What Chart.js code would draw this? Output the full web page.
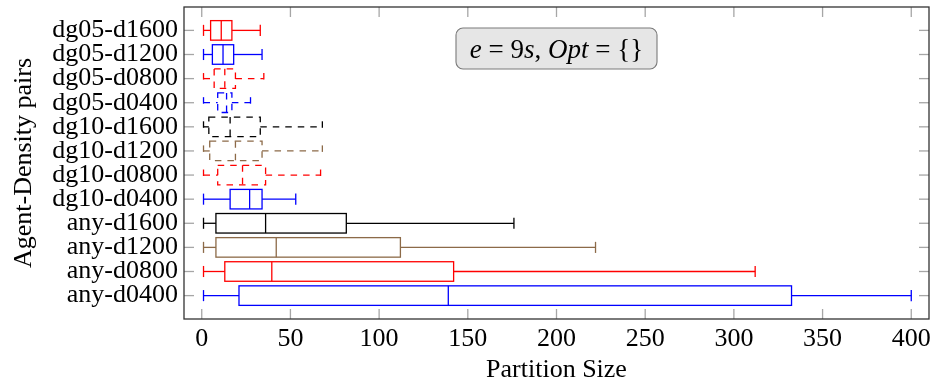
<!DOCTYPE html>
<html>
<head>
<meta charset="utf-8">
<script src="https://cdn.jsdelivr.net/npm/chart.js@4.4.0/dist/chart.umd.min.js"></script>
<style>
  html, body { margin: 0; padding: 0; background: #fff; }
  #wrap { width: 930px; height: 383px; position: relative; }
</style>
</head>
<body>
<div id="wrap"><canvas id="chart"></canvas></div>
<script>
// Rows listed bottom to top (y = 1 .. 12)
const categories = [
  "any-d0400", "any-d0800", "any-d1200", "any-d1600",
  "dg10-d0400", "dg10-d0800", "dg10-d1200", "dg10-d1600",
  "dg05-d0400", "dg05-d0800", "dg05-d1200", "dg05-d1600",
];
const lowWhisker    = [1, 1, 1, 1, 1, 1, 1, 1, 1, 1, 1, 1];
const lowerQuartile = [21, 13, 8, 8, 16, 9, 4.5, 4, 9, 7, 6, 5];
const medians       = [139, 39.5, 42, 36, 27, 23, 19, 16, 14, 13, 12, 11];
const upperQuartile = [332.5, 142, 112, 81.5, 34, 36, 34, 33, 17, 19, 18, 17];
const highWhisker   = [400, 312, 222, 176, 53, 67, 68, 68, 27.5, 35, 34, 33];
const xTickValues   = [0, 50, 100, 150, 200, 250, 300, 350, 400];

const BROWN = "#8c6a48";
const boxColors = [
  "#0000ff", "#ff0000", BROWN, "#000000",
  "#0000ff", "#ff0000", BROWN, "#000000",
  "#0000ff", "#ff0000", "#0000ff", "#ff0000",
];
const boxDashed = [
  false, false, false, false,
  false, true, true, true,
  true, true, false, false,
];

const FONT = "'Liberation Serif', 'Times New Roman', serif";
const DASH = [6.5, 6];

function line(ctx, x1, y1, x2, y2) {
  ctx.beginPath();
  ctx.moveTo(x1, y1);
  ctx.lineTo(x2, y2);
  ctx.stroke();
}

// Inward tick marks on all four sides, pgfplots style
function drawTicks(chart) {
  const { ctx, chartArea: a, scales: { x, y } } = chart;
  const len = 10;
  ctx.save();
  ctx.strokeStyle = "#a6a6a6";
  ctx.lineWidth = 1.3;
  x.ticks.forEach((t) => {
    const px = x.getPixelForValue(t.value);
    line(ctx, px, a.bottom, px, a.bottom - len);
    line(ctx, px, a.top, px, a.top + len);
  });
  y.ticks.forEach((t) => {
    const py = y.getPixelForValue(t.value);
    line(ctx, a.left, py, a.left + len, py);
    line(ctx, a.right, py, a.right - len, py);
  });
  ctx.restore();
}

// Whiskers, medians and outlines on top of the (invisible) floating bars
function drawBoxes(chart) {
  const { ctx, scales: { x, y } } = chart;
  const meta = chart.getDatasetMeta(0);
  const capHalf = Math.abs(y.getPixelForValue(0.23) - y.getPixelForValue(0));
  meta.data.forEach((bar, i) => {
    const p = bar.getProps(["x", "y", "base", "height"], true);
    const left = Math.min(p.x, p.base), right = Math.max(p.x, p.base);
    const top = p.y - p.height / 2, bottom = p.y + p.height / 2;
    const lo = x.getPixelForValue(lowWhisker[i]);
    const hi = x.getPixelForValue(highWhisker[i]);
    const med = x.getPixelForValue(medians[i]);
    ctx.save();
    ctx.strokeStyle = boxColors[i];
    ctx.lineWidth = 1.3;
    ctx.setLineDash(boxDashed[i] ? DASH : []);
    ctx.strokeRect(left, top, right - left, bottom - top);
    line(ctx, med, top, med, bottom);
    line(ctx, lo, p.y, left, p.y);
    line(ctx, right, p.y, hi, p.y);
    line(ctx, lo, p.y - capHalf, lo, p.y + capHalf);
    line(ctx, hi, p.y - capHalf, hi, p.y + capHalf);
    ctx.restore();
  });
}

function drawFrame(chart) {
  const { ctx, chartArea: a } = chart;
  ctx.save();
  ctx.strokeStyle = "#333";
  ctx.lineWidth = 1.3;
  ctx.strokeRect(a.left, a.top, a.right - a.left, a.bottom - a.top);
  ctx.restore();
}

// Rounded grey label box with the run parameters
function drawNote(chart) {
  const { ctx } = chart;
  const parts = [
    ["e", true], [" = ", false], ["9", false], ["s", true], [", ", false],
    ["Opt", true], [" = ", false], ["{}", false],
  ];
  const size = 27;
  const bx = 456, by = 28, bw = 201, bh = 41, r = 7;
  ctx.save();
  ctx.beginPath();
  ctx.roundRect(bx, by, bw, bh, r);
  ctx.fillStyle = "#e6e6e6";
  ctx.fill();
  ctx.strokeStyle = "#7a7a7a";
  ctx.lineWidth = 1.1;
  ctx.stroke();

  const fontFor = (it) => `${it ? "italic " : ""}${size}px ${FONT}`;
  let total = 0;
  parts.forEach(([t, it]) => { ctx.font = fontFor(it); total += ctx.measureText(t).width; });
  let cx = bx + bw / 2 - total / 2;
  ctx.fillStyle = "#000";
  ctx.textBaseline = "alphabetic";
  parts.forEach(([t, it]) => {
    ctx.font = fontFor(it);
    ctx.fillText(t, cx, by + bh / 2 + 9);
    cx += ctx.measureText(t).width;
  });
  ctx.restore();
}

const boxPlotPlugin = {
  id: "boxPlot",
  beforeDatasetsDraw(chart) { drawTicks(chart); },
  afterDatasetsDraw(chart) { drawBoxes(chart); },
  afterDraw(chart) { drawFrame(chart); drawNote(chart); },
};

new Chart(document.getElementById("chart"), {
  type: "bar",
  data: {
    datasets: [{
      data: categories.map((c, i) => ({ x: [lowerQuartile[i], upperQuartile[i]], y: i + 1 })),
      backgroundColor: "rgba(0,0,0,0)",
      borderWidth: 0,
      categoryPercentage: 1,
      barPercentage: 0.81,
    }],
  },
  options: {
    indexAxis: "y",
    responsive: true,
    maintainAspectRatio: false,
    animation: false,
    events: [],
    layout: { padding: { top: 7, right: 1, left: 0, bottom: 0 } },
    scales: {
      x: {
        type: "linear",
        position: "bottom",
        min: -10,
        max: 410,
        afterBuildTicks: (s) => { s.ticks = xTickValues.map((v) => ({ value: v })); },
        afterFit: (s) => {
          s.height = 64;
          s.paddingLeft = 0;
          s.paddingRight = 0;
        },
        grid: { display: false, drawTicks: false },
        border: { display: false },
        ticks: {
          autoSkip: false,
          maxRotation: 0,
          padding: 5,
          color: "#000",
          font: { family: FONT, size: 26 },
          callback: (v) => String(v),
        },
        title: {
          display: true,
          text: "Partition Size",
          color: "#000",
          font: { family: FONT, size: 26, lineHeight: 1 },
          padding: { top: 0, bottom: 0 },
        },
      },
      y: {
        type: "linear",
        offset: false,
        min: 0.03,
        max: 12.97,
        afterBuildTicks: (s) => { s.ticks = categories.map((c, i) => ({ value: i + 1 })); },
        afterFit: (s) => {
          s.width = 184;
          s.paddingTop = 0;
          s.paddingBottom = 0;
        },
        grid: { display: false, drawTicks: false, offset: false },
        border: { display: false },
        ticks: {
          autoSkip: false,
          padding: 6,
          color: "#000",
          font: { family: FONT, size: 26 },
          callback: (v) => categories[v - 1] ?? "",
        },
        title: {
          display: true,
          text: "Agent-Density pairs",
          color: "#000",
          font: { family: FONT, size: 26, lineHeight: 1 },
          padding: { top: 11, bottom: 0 },
        },
      },
    },
    plugins: {
      legend: { display: false },
      tooltip: { enabled: false },
    },
  },
  plugins: [boxPlotPlugin],
});
</script>
</body>
</html>
